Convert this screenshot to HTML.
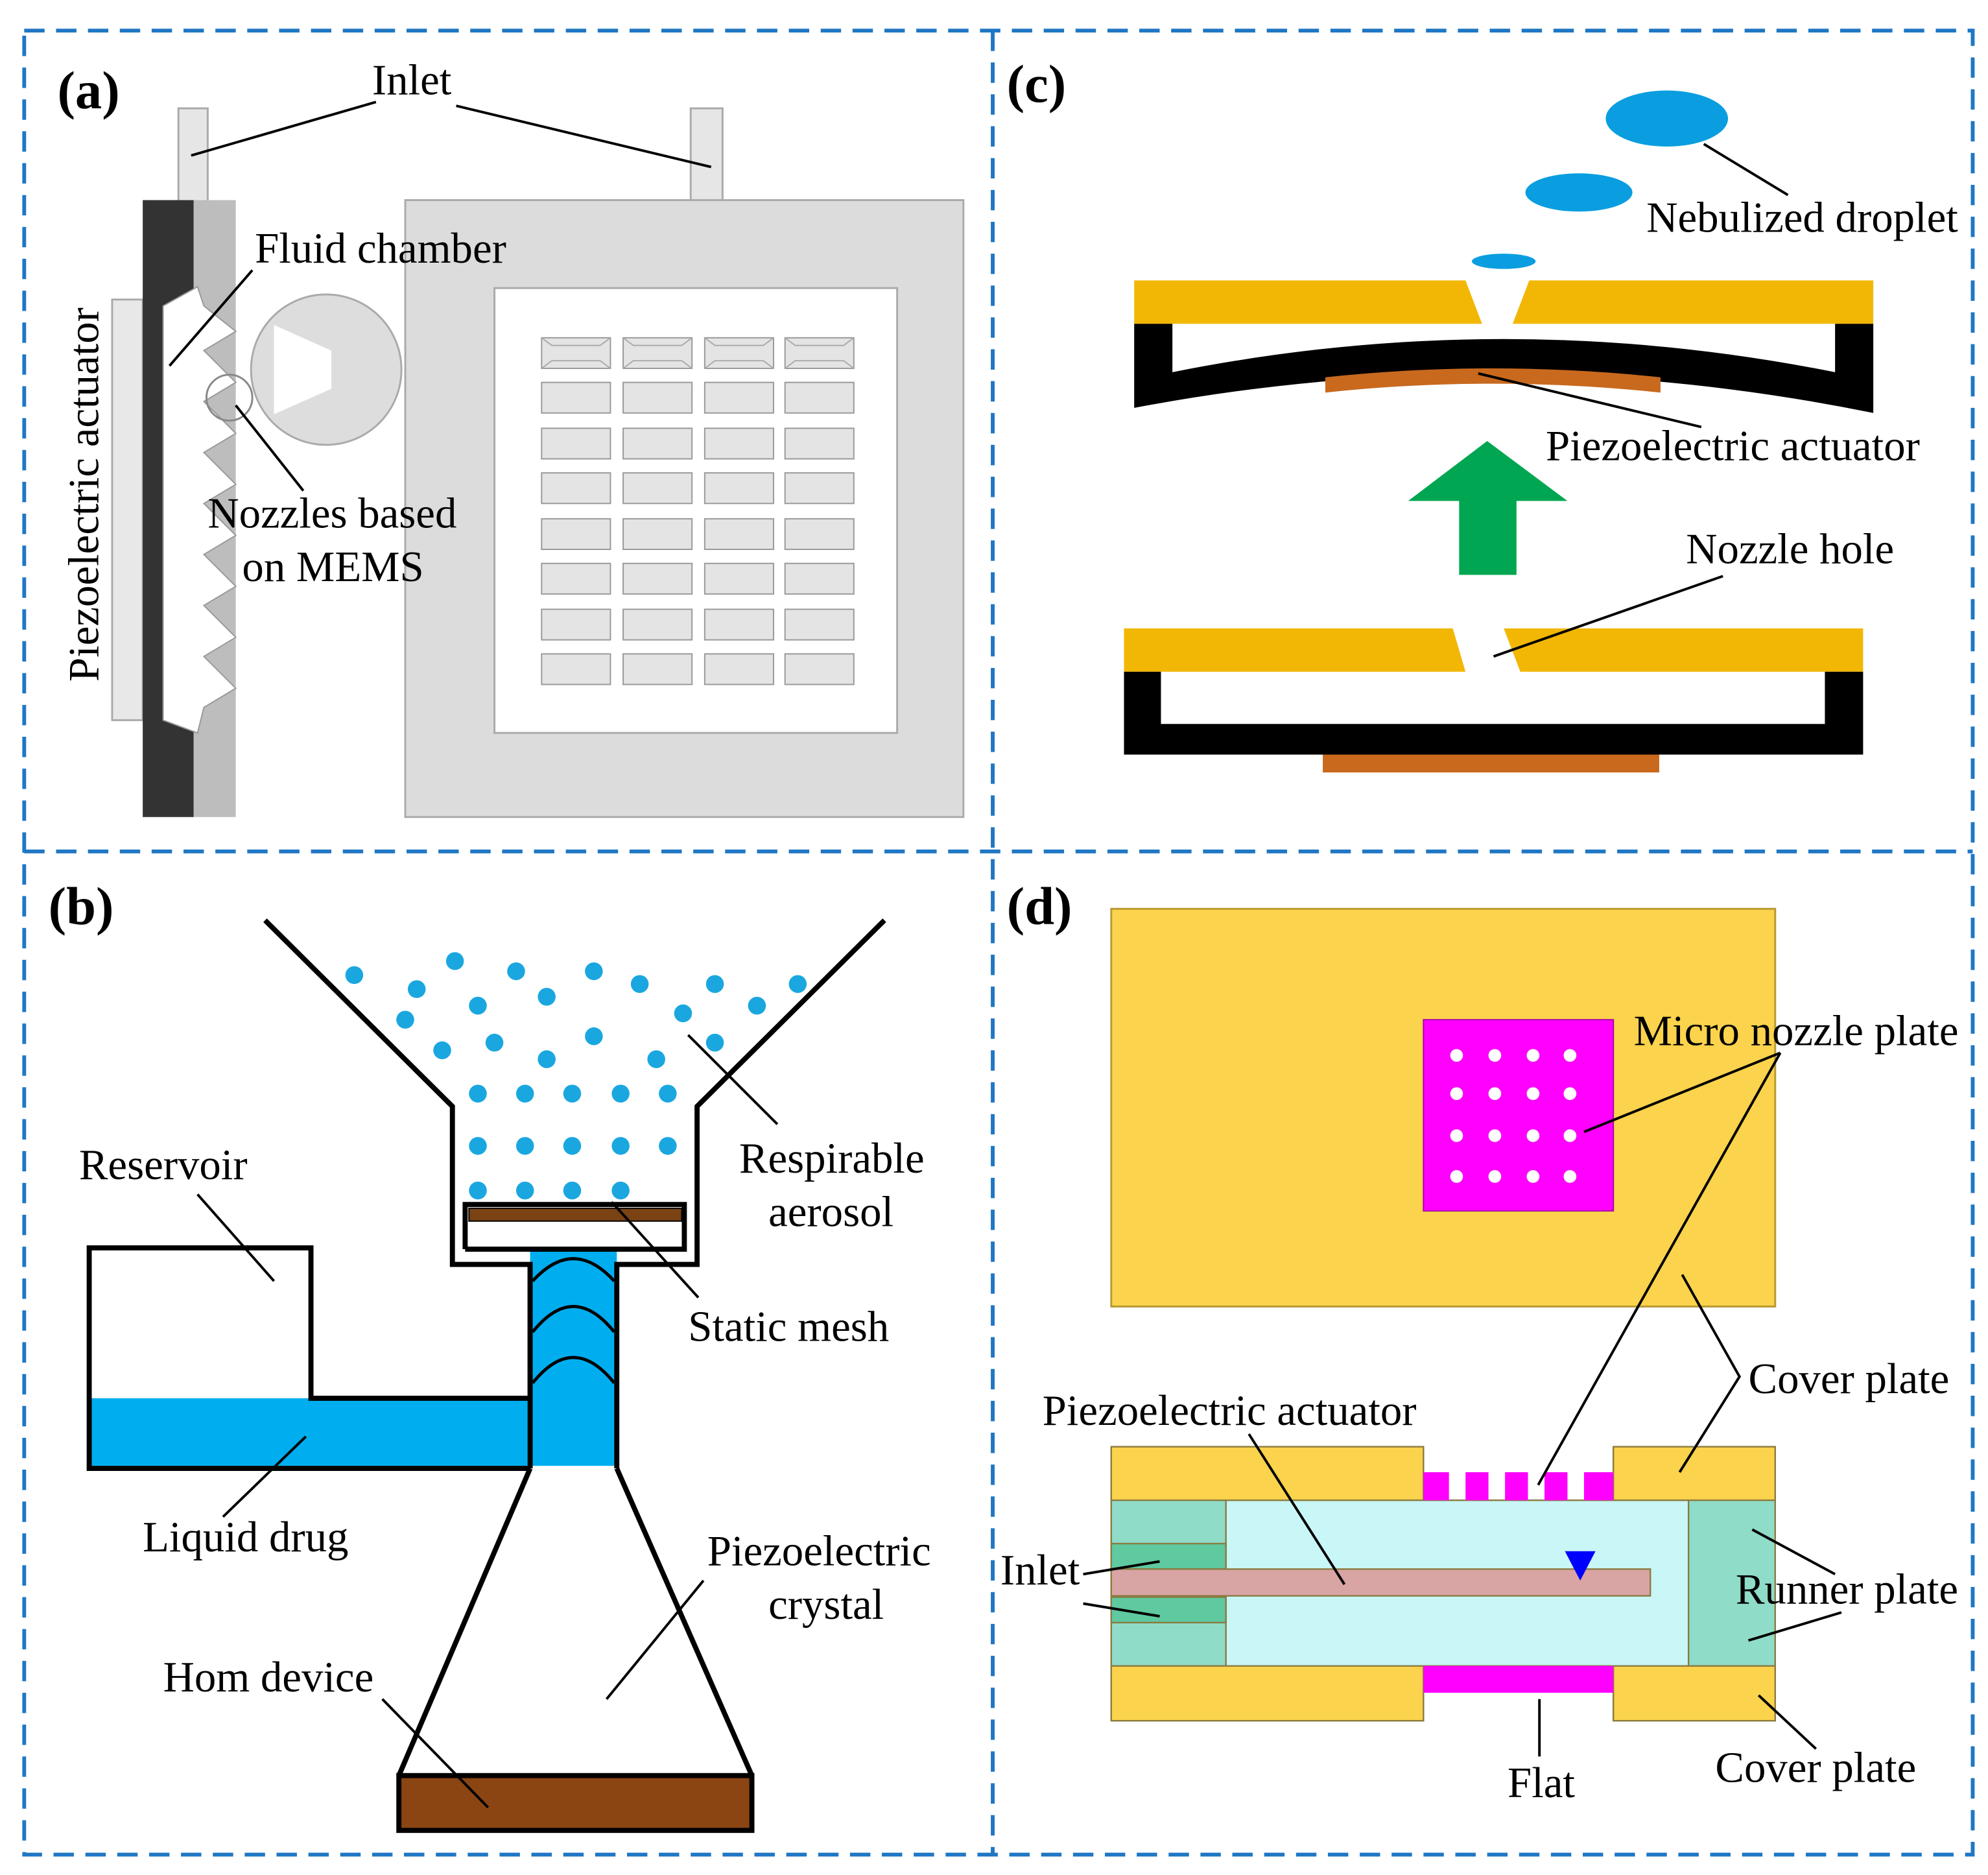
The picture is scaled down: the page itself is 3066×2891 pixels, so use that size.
<!DOCTYPE html>
<html><head><meta charset="utf-8"><style>html,body{margin:0;padding:0;background:#fff}svg{display:block}text{font-family:"Liberation Serif",serif;fill:#000}</style></head>
<body>
<svg width="3066" height="2891" viewBox="0 0 1560 1471" preserveAspectRatio="none" xmlns="http://www.w3.org/2000/svg">
<rect width="1560" height="1471" fill="#fff"/>
<g stroke="#1f77c4" stroke-width="3" stroke-dasharray="16,9" fill="none">
<rect x="19" y="24" width="1529" height="1431"/>
<line x1="779" y1="24" x2="779" y2="1455"/>
<line x1="19" y1="668" x2="1548" y2="668"/>
</g>
<!-- (a) -->
<g stroke="#aaa" stroke-width="1.5">
<rect x="140" y="85" width="23" height="73" fill="#e6e6e6"/>
<rect x="542" y="85" width="25" height="73" fill="#e6e6e6"/>
<rect x="88" y="235" width="24" height="330" fill="#e8e8e8"/>
<rect x="318" y="157" width="438" height="484" fill="#dcdcdc"/>
<rect x="388" y="226" width="316" height="349" fill="#fff"/>
</g>
<rect x="112" y="157" width="40" height="484" fill="#333"/>
<rect x="152" y="157" width="33" height="484" fill="#bdbdbd"/>
<path d="M128 240 L155 225 L160 240 L185 260 L160 275 L185 300 L160 315 L185 340 L160 355 L185 380 L160 395 L185 420 L160 435 L185 460 L160 475 L185 500 L160 515 L185 540 L160 555 L155 575 L128 565 Z" fill="#fff" stroke="#999"/>
<circle cx="256" cy="290" r="59" fill="#ddd" stroke="#aaa" stroke-width="1.5"/>
<path d="M215 255 L260 275 L260 305 L215 325 Z" fill="#fff"/>
<circle cx="180" cy="312" r="18" fill="none" stroke="#888" stroke-width="1.5"/>
<text x="45" y="85" font-size="42" font-weight="bold">(a)</text>
<text x="292" y="74" font-size="34">Inlet</text>
<g stroke="#000" stroke-width="2">
<line x1="295" y1="80" x2="150" y2="122"/><line x1="358" y1="83" x2="558" y2="131"/>
<line x1="198" y1="212" x2="133" y2="287"/><line x1="238" y1="385" x2="185" y2="318"/>
</g>
<text x="200" y="206" font-size="34">Fluid chamber</text>
<text x="163" y="414" font-size="34">Nozzles based</text>
<text x="190" y="456" font-size="34">on MEMS</text>
<text transform="translate(77,388) rotate(-90)" text-anchor="middle" font-size="34">Piezoelectric actuator</text>
<!-- (c) -->
<text x="790" y="80" font-size="42" font-weight="bold">(c)</text>
<ellipse cx="1308" cy="93" rx="48" ry="22" fill="#0a9ee0"/>
<ellipse cx="1239" cy="151" rx="42" ry="15" fill="#0a9ee0"/>
<ellipse cx="1180" cy="205" rx="25" ry="6" fill="#0a9ee0"/>
<text x="1292" y="182" font-size="34">Nebulized droplet</text>
<path d="M890 220 H1150 L1163 254 H890 Z M1200 220 H1470 V254 H1187 Z" fill="#f2b705"/>
<path d="M890 254 H920 V292 Q1180 240 1440 292 V254 H1470 V324 Q1180 265 890 320 Z" fill="#000"/>
<path d="M1040 296 Q1170 282 1303 296 V308 Q1170 294 1040 308 Z" fill="#c8691e"/>
<text x="1213" y="361" font-size="34">Piezoelectric actuator</text>
<path d="M1105 393 L1167 346 L1230 393 H1190 V451 H1145 V393 Z" fill="#00a651"/>
<text x="1323" y="442" font-size="34">Nozzle hole</text>
<path d="M882 493 H1140 L1150 527 H882 Z M1180 493 H1462 V527 H1193 Z" fill="#f2b705"/>
<path d="M882 527 H911 V568 H1432 V527 H1462 V592 H882 Z" fill="#000"/>
<rect x="1038" y="592" width="264" height="14" fill="#c8691e"/>
<g stroke="#000" stroke-width="2">
<line x1="1403" y1="153" x2="1337" y2="113"/><line x1="1335" y1="335" x2="1160" y2="293"/><line x1="1352" y1="452" x2="1172" y2="515"/>
</g>
<!-- (b) -->
<text x="38" y="725" font-size="42" font-weight="bold">(b)</text>
<rect x="72" y="1097" width="344" height="53" fill="#00aeef"/>
<rect x="416" y="980" width="68" height="170" fill="#00aeef"/>
<g fill="none" stroke="#000" stroke-width="2.5">
<path d="M418 1005 Q450 970 482 1005 M418 1045 Q450 1005 482 1045 M418 1085 Q450 1045 482 1085"/>
</g>
<g fill="none" stroke="#000" stroke-width="4">
<path d="M208 722 L355 868 V992 H416 V1097 H244 V979 H70 V1152 H416"/>
<path d="M694 722 L547 868 V992 H484 V1152"/>
<path d="M416 992 V1152 M365 980 V945 H537 V980 H365"/>
<path d="M416 1152 L313 1393 M484 1152 L590 1393"/>
</g>
<rect x="368" y="948" width="167" height="10" fill="#7b4213" stroke="#000" stroke-width="1"/>
<rect x="313" y="1393" width="277" height="43" fill="#8b4513" stroke="#000" stroke-width="4"/>
<g fill="#1aa7e0">
<circle cx="278" cy="765" r="7"/><circle cx="357" cy="754" r="7"/><circle cx="405" cy="762" r="7"/><circle cx="466" cy="762" r="7"/><circle cx="502" cy="772" r="7"/><circle cx="561" cy="772" r="7"/><circle cx="626" cy="772" r="7"/>
<circle cx="327" cy="776" r="7"/><circle cx="375" cy="789" r="7"/><circle cx="429" cy="782" r="7"/><circle cx="536" cy="795" r="7"/><circle cx="594" cy="789" r="7"/>
<circle cx="318" cy="800" r="7"/><circle cx="388" cy="818" r="7"/><circle cx="466" cy="813" r="7"/><circle cx="347" cy="824" r="7"/><circle cx="429" cy="831" r="7"/><circle cx="515" cy="831" r="7"/><circle cx="561" cy="818" r="7"/>
<circle cx="375" cy="858" r="7"/><circle cx="412" cy="858" r="7"/><circle cx="449" cy="858" r="7"/><circle cx="487" cy="858" r="7"/><circle cx="524" cy="858" r="7"/>
<circle cx="375" cy="899" r="7"/><circle cx="412" cy="899" r="7"/><circle cx="449" cy="899" r="7"/><circle cx="487" cy="899" r="7"/><circle cx="524" cy="899" r="7"/>
<circle cx="375" cy="934" r="7"/><circle cx="412" cy="934" r="7"/><circle cx="449" cy="934" r="7"/><circle cx="487" cy="934" r="7"/>
</g>
<g stroke="#000" stroke-width="2">
<line x1="155" y1="937" x2="215" y2="1005"/><line x1="610" y1="882" x2="540" y2="812"/><line x1="548" y1="1018" x2="480" y2="943"/>
<line x1="175" y1="1190" x2="240" y2="1127"/><line x1="552" y1="1240" x2="476" y2="1333"/><line x1="300" y1="1333" x2="383" y2="1418"/>
</g>
<g font-size="34">
<text x="62" y="925">Reservoir</text>
<text x="580" y="920">Respirable</text><text x="603" y="962">aerosol</text>
<text x="540" y="1052">Static mesh</text>
<text x="112" y="1217">Liquid drug</text>
<text x="555" y="1228">Piezoelectric</text><text x="603" y="1270">crystal</text>
<text x="128" y="1327">Hom device</text>
</g>
<!-- (d) -->
<text x="790" y="725" font-size="42" font-weight="bold">(d)</text>
<rect x="872" y="713" width="521" height="312" fill="#fbd34c" stroke="#b89a30" stroke-width="1.5"/>
<rect x="1117" y="800" width="149" height="150" fill="#f0f" stroke="#a0a" stroke-width="1"/>
<g fill="#fff">
<circle cx="1143" cy="828" r="5"/><circle cx="1173" cy="828" r="5"/><circle cx="1203" cy="828" r="5"/><circle cx="1232" cy="828" r="5"/>
<circle cx="1143" cy="858" r="5"/><circle cx="1173" cy="858" r="5"/><circle cx="1203" cy="858" r="5"/><circle cx="1232" cy="858" r="5"/>
<circle cx="1143" cy="891" r="5"/><circle cx="1173" cy="891" r="5"/><circle cx="1203" cy="891" r="5"/><circle cx="1232" cy="891" r="5"/>
<circle cx="1143" cy="923" r="5"/><circle cx="1173" cy="923" r="5"/><circle cx="1203" cy="923" r="5"/><circle cx="1232" cy="923" r="5"/>
</g>
<g stroke="#8a7a40" stroke-width="1.2">
<rect x="872" y="1135" width="245" height="42" fill="#fbd34c"/><rect x="1266" y="1135" width="127" height="42" fill="#fbd34c"/>
<rect x="872" y="1177" width="521" height="130" fill="#8fdcc8"/>
<rect x="962" y="1177" width="363" height="130" fill="#c9f6f6"/>
<rect x="872" y="1211" width="90" height="20" fill="#5fc9a0"/><rect x="872" y="1253" width="90" height="20" fill="#5fc9a0"/>
<rect x="872" y="1231" width="423" height="21" fill="#d9a4a4"/>
<rect x="872" y="1307" width="245" height="43" fill="#fbd34c"/><rect x="1266" y="1307" width="127" height="43" fill="#fbd34c"/>
</g>
<rect x="1117" y="1307" width="149" height="21" fill="#f0f"/>
<g fill="#f0f"><rect x="1117" y="1155" width="20" height="22"/><rect x="1150" y="1155" width="18" height="22"/><rect x="1181" y="1155" width="18" height="22"/><rect x="1212" y="1155" width="18" height="22"/><rect x="1243" y="1155" width="23" height="22"/></g>
<path d="M1228 1217 H1252 L1240 1240 Z" fill="#0000ff"/>
<g stroke="#000" stroke-width="2" fill="none">
<line x1="1397" y1="826" x2="1243" y2="888"/><line x1="1397" y1="826" x2="1207" y2="1165"/>
<path d="M1320 1000 L1365 1080 L1318 1155"/>
<line x1="980" y1="1125" x2="1055" y2="1243"/>
<line x1="850" y1="1235" x2="910" y2="1225"/><line x1="850" y1="1258" x2="910" y2="1268"/>
<line x1="1440" y1="1235" x2="1375" y2="1200"/><line x1="1445" y1="1265" x2="1372" y2="1287"/>
<line x1="1208" y1="1333" x2="1208" y2="1378"/><line x1="1425" y1="1372" x2="1380" y2="1330"/>
</g>
<g font-size="34">
<text x="1282" y="820">Micro nozzle plate</text>
<text x="1372" y="1093">Cover plate</text>
<text x="818" y="1118">Piezoelectric actuator</text>
<text x="785" y="1243">Inlet</text>
<text x="1362" y="1258">Runner plate</text>
<text x="1183" y="1410">Flat</text>
<text x="1346" y="1398">Cover plate</text>
</g>
<g fill="#e4e4e4" stroke="#999" stroke-width="1">
<rect x="425" y="265" width="54" height="24"/><rect x="489" y="265" width="54" height="24"/><rect x="553" y="265" width="54" height="24"/><rect x="616" y="265" width="54" height="24"/>
<rect x="425" y="300" width="54" height="24"/><rect x="489" y="300" width="54" height="24"/><rect x="553" y="300" width="54" height="24"/><rect x="616" y="300" width="54" height="24"/>
<rect x="425" y="336" width="54" height="24"/><rect x="489" y="336" width="54" height="24"/><rect x="553" y="336" width="54" height="24"/><rect x="616" y="336" width="54" height="24"/>
<rect x="425" y="371" width="54" height="24"/><rect x="489" y="371" width="54" height="24"/><rect x="553" y="371" width="54" height="24"/><rect x="616" y="371" width="54" height="24"/>
<rect x="425" y="407" width="54" height="24"/><rect x="489" y="407" width="54" height="24"/><rect x="553" y="407" width="54" height="24"/><rect x="616" y="407" width="54" height="24"/>
<rect x="425" y="442" width="54" height="24"/><rect x="489" y="442" width="54" height="24"/><rect x="553" y="442" width="54" height="24"/><rect x="616" y="442" width="54" height="24"/>
<rect x="425" y="478" width="54" height="24"/><rect x="489" y="478" width="54" height="24"/><rect x="553" y="478" width="54" height="24"/><rect x="616" y="478" width="54" height="24"/>
<rect x="425" y="513" width="54" height="24"/><rect x="489" y="513" width="54" height="24"/><rect x="553" y="513" width="54" height="24"/><rect x="616" y="513" width="54" height="24"/>
</g>
<g stroke="#aaa" stroke-width="1" fill="none">
<path d="M425 265 l8 6 h38 l8 -6 M425 289 l8 -6 h38 l8 6 M489 265 l8 6 h38 l8 -6 M489 289 l8 -6 h38 l8 6 M553 265 l8 6 h38 l8 -6 M553 289 l8 -6 h38 l8 6 M616 265 l8 6 h38 l8 -6 M616 289 l8 -6 h38 l8 6"/>
</g>
</svg>
</body></html>
